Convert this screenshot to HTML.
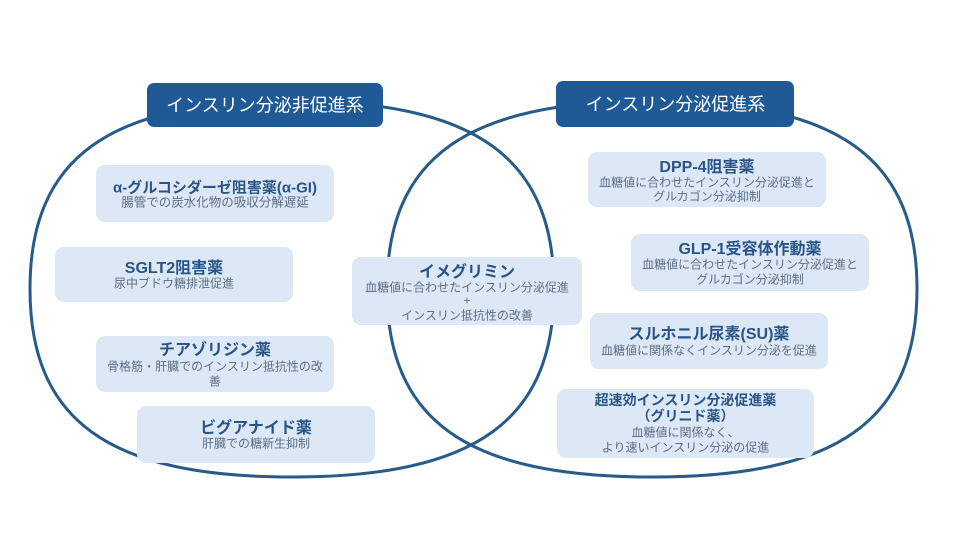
<!DOCTYPE html>
<html>
<head>
<meta charset="utf-8">
<style>
html,body{margin:0;padding:0;background:#ffffff;}
svg{display:block;}
text{font-family:"Liberation Sans","Noto Sans CJK JP",sans-serif;}
.t{font-weight:bold;fill:#2a5487;font-size:16px;}
.s{fill:#5b6f86;font-size:12px;}
.lb{fill:#ffffff;font-size:18px;}
</style>
</head>
<body>
<svg width="960" height="540" viewBox="0 0 960 540" xmlns="http://www.w3.org/2000/svg">
  <rect width="960" height="540" fill="#ffffff"/>
  <!-- ellipses -->
  <path d="M554,289 C554,420.6 475.4,477 292,477 C108.6,477 30,420.6 30,289 C30,157.4 108.6,101 292,101 C475.4,101 554,157.4 554,289 Z" fill="none" stroke="#285a8a" stroke-width="3"/>
  <path d="M917,289 C917,420.6 837.5,477 652,477 C466.5,477 387,420.6 387,289 C387,157.4 466.5,101 652,101 C837.5,101 917,157.4 917,289 Z" fill="none" stroke="#285a8a" stroke-width="3"/>

  <!-- header labels -->
  <rect x="147" y="83" width="236" height="44" rx="7" fill="#1f5a96"/>
  <text class="lb" x="265" y="111.5" text-anchor="middle">インスリン分泌非促進系</text>
  <rect x="556" y="81" width="238" height="46" rx="7" fill="#1f5a96"/>
  <text class="lb" x="675.5" y="110.5" text-anchor="middle">インスリン分泌促進系</text>

  <!-- left pills -->
  <rect x="96" y="165" width="238" height="57" rx="9" fill="#dce8f5"/>
  <text class="t" x="215" y="192.5" text-anchor="middle" style="font-size:15px">α-グルコシダーゼ阻害薬(α-GI)</text>
  <text class="s" x="215" y="206.5" text-anchor="middle" style="font-size:12.5px">腸管での炭水化物の吸収分解遅延</text>

  <rect x="55" y="247" width="238" height="55" rx="9" fill="#dce8f5"/>
  <text class="t" x="174" y="272.8" text-anchor="middle">SGLT2阻害薬</text>
  <text class="s" x="174" y="287.3" text-anchor="middle">尿中ブドウ糖排泄促進</text>

  <rect x="96" y="336" width="238" height="56" rx="9" fill="#dce8f5"/>
  <text class="t" x="215" y="354.8" text-anchor="middle">チアゾリジン薬</text>
  <text class="s" x="215" y="370.3" text-anchor="middle">骨格筋・肝臓でのインスリン抵抗性の改</text>
  <text class="s" x="215" y="385.3" text-anchor="middle">善</text>

  <rect x="137" y="406" width="238" height="57" rx="9" fill="#dce8f5"/>
  <text class="t" x="256" y="432.8" text-anchor="middle">ビグアナイド薬</text>
  <text class="s" x="256" y="447.3" text-anchor="middle">肝臓での糖新生抑制</text>

  <!-- center pill -->
  <rect x="352" y="257" width="230" height="68" rx="9" fill="#dce8f5"/>
  <text class="t" x="467" y="276.8" text-anchor="middle">イメグリミン</text>
  <text class="s" x="467" y="291.3" text-anchor="middle">血糖値に合わせたインスリン分泌促進</text>
  <text class="s" x="467" y="304.5" text-anchor="middle">+</text>
  <text class="s" x="467" y="319.3" text-anchor="middle">インスリン抵抗性の改善</text>

  <!-- right pills -->
  <rect x="588" y="152" width="238" height="55" rx="9" fill="#dce8f5"/>
  <text class="t" x="707" y="171.8" text-anchor="middle">DPP-4阻害薬</text>
  <text class="s" x="707" y="186.3" text-anchor="middle">血糖値に合わせたインスリン分泌促進と</text>
  <text class="s" x="707" y="200.3" text-anchor="middle">グルカゴン分泌抑制</text>

  <rect x="631" y="234" width="238" height="57" rx="9" fill="#dce8f5"/>
  <text class="t" x="750" y="253.8" text-anchor="middle">GLP-1受容体作動薬</text>
  <text class="s" x="750" y="268.3" text-anchor="middle">血糖値に合わせたインスリン分泌促進と</text>
  <text class="s" x="750" y="283.3" text-anchor="middle">グルカゴン分泌抑制</text>

  <rect x="590" y="313" width="238" height="56" rx="9" fill="#dce8f5"/>
  <text class="t" x="709" y="338.8" text-anchor="middle">スルホニル尿素(SU)薬</text>
  <text class="s" x="709" y="354.3" text-anchor="middle">血糖値に関係なくインスリン分泌を促進</text>

  <rect x="557" y="389" width="257" height="69" rx="9" fill="#dce8f5"/>
  <text class="t" x="685.5" y="405" text-anchor="middle" style="font-size:14px">超速効インスリン分泌促進薬</text>
  <text class="t" x="685.5" y="421" text-anchor="middle" style="font-size:14px">（グリニド薬）</text>
  <text class="s" x="685.5" y="436.3" text-anchor="middle">血糖値に関係なく、</text>
  <text class="s" x="685.5" y="451.3" text-anchor="middle">より速いインスリン分泌の促進</text>
</svg>
</body>
</html>
